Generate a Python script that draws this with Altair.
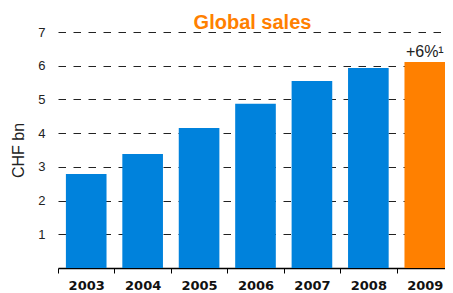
import altair as alt
import pandas as pd

years = ["2003", "2004", "2005", "2006", "2007", "2008", "2009"]
sales = [2.79, 3.38, 4.15, 4.87, 5.55, 5.93, 6.11]
highlight = ["base", "base", "base", "base", "base", "base", "hi"]
notes = ["", "", "", "", "", "", "+6%\u00b9"]
y_ticks = [1, 2, 3, 4, 5, 6, 7]

df = pd.DataFrame({"year": years, "sales": sales, "kind": highlight, "note": notes})

x = alt.X(
    "year:N",
    title=None,
    sort=years,
    scale=alt.Scale(paddingInner=0, paddingOuter=0),
    axis=alt.Axis(
        tickBand="extent",
        domainColor="#000",
        domainWidth=1.5,
        tickColor="#000",
        tickSize=5,
        tickWidth=1,
        labelFont="DejaVu Sans",
        labelFontWeight="bold",
        labelFontSize=13,
        labelColor="#111",
        labelPadding=6,
        labelAngle=0,
        grid=False,
    ),
)
y = alt.Y(
    "sales:Q",
    title="CHF bn",
    scale=alt.Scale(domain=[0, 7], nice=False, zero=True),
    axis=alt.Axis(
        values=y_ticks,
        tickCount=7,
        labelOverlap=False,
        domain=False,
        ticks=False,
        grid=True,
        gridColor="#222",
        gridWidth=1,
        gridDash=[7.5, 7.5],
        labelFont="Liberation Sans",
        labelFontSize=13,
        labelColor="#222",
        labelPadding=13,
        titleFont="Liberation Sans",
        titleFontSize=16,
        titleFontWeight="normal",
        titleColor="#222",
        titlePadding=11,
    ),
)

bars = alt.Chart(df).mark_bar(width=alt.RelativeBandSize(0.72)).encode(
    x=x,
    y=y,
    color=alt.Color(
        "kind:N",
        scale=alt.Scale(domain=["base", "hi"], range=["#0082DC", "#FF8000"]),
        legend=None,
    ),
)

labels = alt.Chart(df).mark_text(
    baseline="alphabetic", dy=-5, font="Liberation Sans", fontSize=16, color="#222"
).encode(x=alt.X("year:N", sort=years), y="sales:Q", text="note:N")

chart = (
    alt.layer(bars, labels)
    .properties(
        width=395,
        height=236,
        autosize=alt.AutoSizeParams(type="none"),
        padding={"left": 50, "top": 24, "right": -8, "bottom": 25},
        title=alt.TitleParams(
            "Global sales",
            color="#FF8000",
            font="Liberation Sans",
            fontSize=20,
            fontWeight="bold",
            anchor="middle",
            baseline="alphabetic",
            offset=3,
            dx=-3,
            dy=26,
        ),
    )
    .configure_view(stroke=None)
)

chart.save("out.html", embed_options={"renderer": "svg", "actions": False})
